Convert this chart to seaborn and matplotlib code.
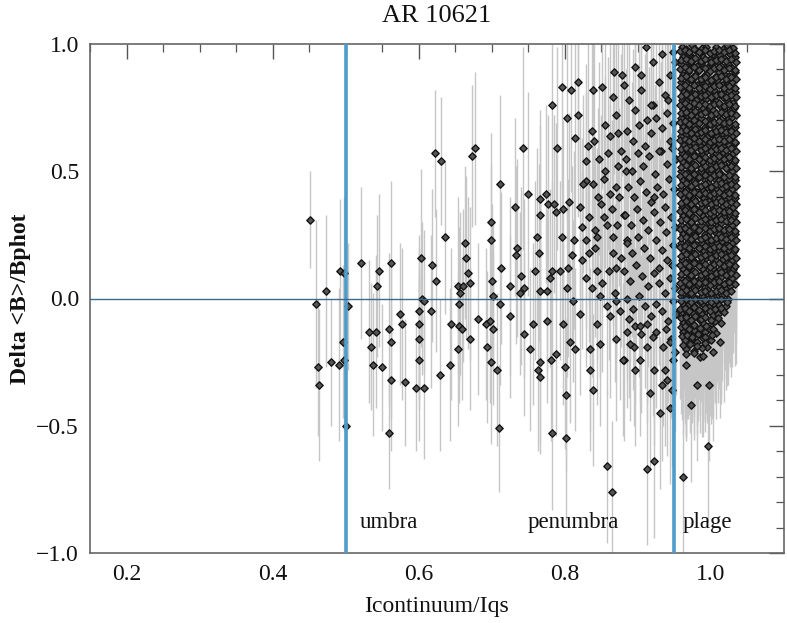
import matplotlib
matplotlib.use("Agg")
import matplotlib.pyplot as plt
import seaborn as sns
import pandas as pd
from matplotlib.ticker import MultipleLocator

# ---------------- data ----------------
title = "AR 10621"
x_label = "Icontinuum/Iqs"
y_label = "Delta <B>/Bphot"
region_names = ["umbra", "penumbra", "plage"]
region_x = [0.52, 0.749, 0.962]
region_y = [-0.90, -0.90, -0.90]
boundaries = [0.5, 0.95]
x_ticks = [0.2, 0.4, 0.6, 0.8, 1.0]
y_ticks = [-1.0, -0.5, 0.0, 0.5, 1.0]

# (x, y, error) points, umbra and inner penumbra
umbra_pts = [
    (0.452, 0.31, 0.19), (0.460, -0.02, 0.33), (0.473, 0.03, 0.30), (0.462, -0.27, 0.27),
    (0.464, -0.34, 0.30), (0.480, -0.25, 0.25), (0.491, -0.26, 0.30), (0.492, 0.11, 0.28),
    (0.498, 0.10, 0.30), (0.504, -0.03, 0.25), (0.496, -0.17, 0.30), (0.498, -0.24, 0.28),
    (0.501, -0.50, 0.20), (0.521, 0.14, 0.30), (0.532, -0.13, 0.28), (0.535, -0.19, 0.25),
    (0.538, -0.26, 0.28), (0.542, -0.13, 0.30), (0.543, 0.05, 0.28), (0.546, 0.11, 0.30),
    (0.550, -0.27, 0.25), (0.559, -0.12, 0.30), (0.562, 0.14, 0.32), (0.562, -0.17, 0.30),
    (0.562, -0.32, 0.28), (0.560, -0.53, 0.22), (0.575, -0.06, 0.28), (0.578, -0.10, 0.30),
    (0.582, -0.33, 0.25), (0.597, -0.35, 0.25), (0.603, 0.16, 0.35), (0.601, -0.05, 0.30),
    (0.601, -0.10, 0.30), (0.601, -0.16, 0.28), (0.601, -0.24, 0.32), (0.607, -0.35, 0.28),
    (0.605, 0.00, 0.30), (0.608, -0.01, 0.28), (0.617, -0.05, 0.30), (0.619, 0.13, 0.30),
    (0.622, 0.57, 0.25), (0.631, 0.54, 0.25), (0.624, 0.07, 0.28), (0.636, 0.24, 0.30),
    (0.629, -0.30, 0.30), (0.643, -0.26, 0.30), (0.645, -0.10, 0.30), (0.654, 0.05, 0.35),
    (0.655, -0.02, 0.30), (0.657, 0.02, 0.32), (0.661, 0.05, 0.30), (0.655, -0.11, 0.30),
    (0.659, -0.12, 0.28), (0.654, -0.20, 0.30), (0.664, 0.22, 0.30), (0.665, 0.16, 0.32),
    (0.668, 0.10, 0.30), (0.671, 0.06, 0.30), (0.671, -0.16, 0.28), (0.673, 0.56, 0.28),
    (0.677, 0.59, 0.30), (0.681, -0.08, 0.30), (0.693, -0.10, 0.30), (0.698, -0.09, 0.32),
    (0.699, 0.30, 0.35), (0.699, 0.23, 0.30), (0.701, 0.07, 0.30), (0.702, 0.01, 0.30),
    (0.702, -0.12, 0.30), (0.694, -0.19, 0.30), (0.699, -0.25, 0.32), (0.707, -0.28, 0.30),
    (0.710, -0.51, 0.25), (0.711, 0.45, 0.35), (0.713, 0.12, 0.30),
]

# (x, y, error) points, penumbra
penumbra_pts = [
    (0.868, 0.89, 0.40), (0.882, 0.84, 0.40), (0.797, 0.83, 0.40), (0.809, 0.82, 0.40),
    (0.819, 0.85, 0.40), (0.839, 0.82, 0.40), (0.852, 0.83, 0.40), (0.783, 0.76, 0.40),
    (0.804, 0.71, 0.40), (0.819, 0.72, 0.40), (0.814, 0.63, 0.40), (0.743, 0.59, 0.40),
    (0.790, 0.59, 0.40), (0.832, 0.60, 0.40), (0.841, 0.62, 0.40), (0.837, 0.66, 0.40),
    (0.873, 0.65, 0.40), (0.750, 0.41, 0.40), (0.732, 0.36, 0.35), (0.766, 0.39, 0.35),
    (0.775, 0.41, 0.35), (0.777, 0.37, 0.35), (0.785, 0.37, 0.35), (0.767, 0.33, 0.35),
    (0.788, 0.34, 0.35), (0.798, 0.35, 0.35), (0.806, 0.38, 0.35), (0.821, 0.36, 0.35),
    (0.830, 0.54, 0.38), (0.830, 0.46, 0.35), (0.839, 0.45, 0.35), (0.846, 0.40, 0.35),
    (0.856, 0.50, 0.38), (0.859, 0.57, 0.38), (0.871, 0.44, 0.35), (0.873, 0.52, 0.35),
    (0.884, 0.50, 0.35), (0.863, 0.41, 0.35), (0.854, 0.47, 0.35), (0.762, 0.24, 0.35),
    (0.765, 0.18, 0.35), (0.796, 0.24, 0.35), (0.735, 0.20, 0.35), (0.733, 0.17, 0.35),
    (0.725, 0.05, 0.35), (0.741, 0.09, 0.35), (0.760, 0.11, 0.35), (0.783, 0.11, 0.35),
    (0.794, 0.11, 0.35), (0.805, 0.12, 0.35), (0.810, 0.17, 0.35), (0.813, 0.23, 0.35),
    (0.824, 0.28, 0.35), (0.830, 0.23, 0.35), (0.842, 0.27, 0.35), (0.845, 0.24, 0.35),
    (0.854, 0.32, 0.35), (0.865, 0.35, 0.35), (0.872, 0.29, 0.35), (0.881, 0.33, 0.35),
    (0.885, 0.23, 0.35), (0.833, 0.18, 0.35), (0.867, 0.18, 0.35), (0.780, 0.08, 0.35),
    (0.830, 0.08, 0.35), (0.844, 0.11, 0.35), (0.871, 0.12, 0.35), (0.744, 0.04, 0.35),
    (0.766, 0.03, 0.35), (0.803, 0.04, 0.35),
    (0.783, -0.53, 0.30), (0.802, -0.55, 0.32), (0.858, -0.66, 0.30), (0.865, -0.76, 0.28),
    (0.839, -0.36, 0.30), (0.802, -0.38, 0.30), (0.766, -0.31, 0.30), (0.764, -0.28, 0.32),
    (0.725, -0.07, 0.32), (0.744, -0.14, 0.32), (0.753, -0.20, 0.32), (0.766, -0.25, 0.32),
    (0.781, -0.24, 0.32), (0.801, -0.27, 0.32), (0.814, -0.20, 0.32), (0.835, -0.28, 0.32),
    (0.835, -0.20, 0.32), (0.849, -0.18, 0.32), (0.871, -0.16, 0.32), (0.881, -0.24, 0.32),
    (0.789, -0.22, 0.32), (0.808, -0.17, 0.32), (0.757, -0.10, 0.32), (0.776, -0.09, 0.32),
    (0.798, -0.10, 0.32), (0.821, -0.06, 0.32), (0.844, -0.10, 0.32), (0.862, -0.07, 0.32),
    (0.712, -0.02, 0.32), (0.739, 0.02, 0.32), (0.776, 0.03, 0.32), (0.812, -0.01, 0.32),
    (0.849, 0.01, 0.32), (0.871, -0.01, 0.32),
    (0.826, 0.45, 0.35), (0.834, 0.32, 0.35), (0.842, 0.20, 0.35), (0.850, 0.37, 0.35),
    (0.858, 0.29, 0.35), (0.866, 0.24, 0.35), (0.874, 0.40, 0.35), (0.878, 0.16, 0.35),
    (0.852, 0.06, 0.35), (0.861, 0.11, 0.35), (0.869, 0.02, 0.35), (0.876, -0.05, 0.35),
    (0.858, -0.03, 0.35), (0.838, 0.04, 0.35), (0.824, 0.15, 0.35), (0.847, 0.55, 0.38),
    (0.862, 0.64, 0.38), (0.877, 0.58, 0.38), (0.871, 0.72, 0.40), (0.856, 0.68, 0.40),
    (0.879, 0.88, 0.40), (0.866, 0.79, 0.40),
]

# (x, y, error) points, outer penumbra just left of the plage boundary
outer_pts = [
    (0.889, 0.78, 0.38), (0.897, 0.74, 0.38), (0.905, 0.82, 0.38), (0.913, 0.70, 0.38),
    (0.921, 0.76, 0.38), (0.929, 0.85, 0.38), (0.937, 0.80, 0.38), (0.944, 0.88, 0.38),
    (0.951, 0.93, 0.38), (0.948, 0.97, 0.38), (0.886, 0.66, 0.36), (0.894, 0.62, 0.36),
    (0.902, 0.68, 0.36), (0.910, 0.60, 0.36), (0.918, 0.65, 0.36), (0.926, 0.71, 0.36),
    (0.934, 0.67, 0.36), (0.941, 0.73, 0.36), (0.949, 0.69, 0.36), (0.944, 0.62, 0.36),
    (0.884, 0.55, 0.35), (0.892, 0.50, 0.35), (0.900, 0.57, 0.35), (0.908, 0.52, 0.35),
    (0.916, 0.56, 0.35), (0.924, 0.49, 0.35), (0.932, 0.58, 0.35), (0.940, 0.53, 0.35),
    (0.947, 0.59, 0.35), (0.953, 0.55, 0.35), (0.887, 0.44, 0.34), (0.895, 0.40, 0.34),
    (0.903, 0.46, 0.34), (0.911, 0.42, 0.34), (0.919, 0.38, 0.34), (0.927, 0.44, 0.34),
    (0.935, 0.41, 0.34), (0.943, 0.47, 0.34), (0.950, 0.43, 0.34), (0.938, 0.36, 0.34),
    (0.883, 0.33, 0.33), (0.891, 0.29, 0.33), (0.899, 0.35, 0.33), (0.907, 0.31, 0.33),
    (0.915, 0.27, 0.33), (0.923, 0.34, 0.33), (0.931, 0.30, 0.33), (0.939, 0.26, 0.33),
    (0.946, 0.32, 0.33), (0.952, 0.28, 0.33), (0.885, 0.22, 0.33), (0.893, 0.18, 0.33),
    (0.901, 0.24, 0.33), (0.909, 0.20, 0.33), (0.917, 0.16, 0.33), (0.925, 0.23, 0.33),
    (0.933, 0.19, 0.33), (0.941, 0.15, 0.33), (0.948, 0.21, 0.33), (0.929, 0.12, 0.33),
    (0.882, 0.11, 0.32), (0.890, 0.07, 0.32), (0.898, 0.13, 0.32), (0.906, 0.09, 0.32),
    (0.914, 0.05, 0.32), (0.922, 0.10, 0.32), (0.930, 0.06, 0.32), (0.937, 0.02, 0.32),
    (0.945, 0.08, 0.32), (0.952, 0.04, 0.32), (0.886, 0.00, 0.32), (0.894, -0.04, 0.32),
    (0.902, 0.01, 0.32), (0.910, -0.03, 0.32), (0.918, -0.07, 0.32), (0.926, -0.02, 0.32),
    (0.934, -0.05, 0.32), (0.942, -0.09, 0.32), (0.949, -0.01, 0.32), (0.953, -0.06, 0.32),
    (0.888, -0.08, 0.31), (0.897, -0.11, 0.31), (0.905, -0.14, 0.31), (0.913, -0.10, 0.31),
    (0.921, -0.15, 0.31), (0.939, -0.12, 0.31), (0.946, -0.16, 0.31), (0.935, -0.19, 0.31),
    (0.951, -0.21, 0.31), (0.895, -0.19, 0.31), (0.905, 0.88, 0.38), (0.921, 0.93, 0.38),
    (0.933, 0.96, 0.38), (0.912, 0.99, 0.38), (0.897, 0.91, 0.38), (0.942, 0.78, 0.38),
    (0.930, 0.58, 0.35), (0.922, 0.40, 0.34), (0.947, 0.13, 0.33), (0.918, 0.76, 0.38),
    (0.913, -0.67, 0.30), (0.922, -0.64, 0.30), (0.931, -0.45, 0.30), (0.945, -0.43, 0.30),
    (0.917, -0.37, 0.30), (0.947, -0.36, 0.30), (0.933, -0.34, 0.30), (0.940, -0.32, 0.30),
    (0.897, -0.28, 0.30), (0.922, -0.28, 0.30), (0.938, -0.28, 0.30), (0.880, -0.24, 0.30),
    (0.903, -0.24, 0.30), (0.890, -0.18, 0.30), (0.913, -0.19, 0.30), (0.949, -0.24, 0.30),
    (0.885, -0.13, 0.30), (0.903, -0.11, 0.30), (0.926, -0.13, 0.30), (0.945, -0.17, 0.30),
]

# plage: scattered low points plus the dense cloud (rows of x and y values)
plage_low_pts = [
    (0.963, -0.70, 0.30), (0.996, -0.58, 0.30), (0.973, -0.42, 0.30), (0.982, -0.34, 0.30),
    (0.998, -0.34, 0.30), (0.967, -0.26, 0.30), (0.985, -0.23, 0.30), (0.995, -0.19, 0.30),
    (1.013, -0.17, 0.30),
]

plage_x_rows = [
    [0.961, 0.966, 0.975, 0.980, 0.989, 0.994, 1.003, 1.008, 1.017, 1.022, 1.031],
    [0.963, 0.971, 0.976, 0.985, 0.990, 0.999, 1.004, 1.013, 1.018, 1.027, 1.033],
    [0.959, 0.968, 0.973, 0.982, 0.987, 0.996, 1.001, 1.010, 1.015, 1.024, 1.029],
    [0.962, 0.969, 0.978, 0.983, 0.992, 0.997, 1.006, 1.011, 1.020, 1.025, 1.034],
    [0.960, 0.967, 0.974, 0.981, 0.988, 0.995, 1.002, 1.009, 1.016, 1.023, 1.030],
    [0.964, 0.970, 0.977, 0.986, 0.991, 0.998, 1.005, 1.012, 1.019, 1.026, 1.033],
    [0.961, 0.966, 0.975, 0.980, 0.989, 0.994, 1.003, 1.008, 1.017, 1.022, 1.031],
    [0.963, 0.971, 0.976, 0.985, 0.990, 0.999, 1.004, 1.013, 1.018, 1.027, 1.032],
    [0.959, 0.968, 0.973, 0.982, 0.987, 0.996, 1.001, 1.010, 1.015, 1.024, 1.029],
    [0.962, 0.969, 0.978, 0.983, 0.992, 0.997, 1.006, 1.011, 1.020, 1.025, 1.034],
    [0.960, 0.967, 0.974, 0.981, 0.988, 0.995, 1.002, 1.009, 1.016, 1.023, 1.030],
    [0.964, 0.970, 0.977, 0.986, 0.991, 0.998, 1.005, 1.012, 1.019, 1.026, 1.033],
    [0.961, 0.966, 0.975, 0.980, 0.989, 0.994, 1.003, 1.008, 1.017, 1.022, 1.031],
    [0.963, 0.971, 0.976, 0.985, 0.990, 0.999, 1.004, 1.013, 1.018, 1.027, 1.032],
    [0.959, 0.968, 0.973, 0.982, 0.987, 0.996, 1.001, 1.010, 1.015, 1.024, 1.029],
    [0.962, 0.969, 0.978, 0.983, 0.992, 0.997, 1.006, 1.011, 1.020, 1.025, 1.034],
    [0.960, 0.967, 0.974, 0.981, 0.988, 0.995, 1.002, 1.009, 1.016, 1.023, 1.030],
    [0.964, 0.970, 0.977, 0.986, 0.991, 0.998, 1.005, 1.012, 1.019, 1.026, 1.033],
    [0.961, 0.966, 0.975, 0.980, 0.989, 0.994, 1.003, 1.008, 1.017, 1.022, 1.031],
    [0.963, 0.971, 0.976, 0.985, 0.990, 0.999, 1.004, 1.013, 1.018, 1.027, 1.032],
    [0.959, 0.968, 0.973, 0.982, 0.987, 0.996, 1.001, 1.010, 1.015, 1.024, 1.029],
    [0.962, 0.969, 0.978, 0.983, 0.992, 0.997, 1.006, 1.011, 1.020, 1.025, 1.033],
    [0.960, 0.967, 0.974, 0.981, 0.988, 0.995, 1.002, 1.009, 1.016, 1.023, 1.030],
    [0.964, 0.970, 0.977, 0.986, 0.991, 0.998, 1.005, 1.012, 1.019, 1.026, 1.032],
    [0.961, 0.966, 0.975, 0.980, 0.989, 0.994, 1.003, 1.008, 1.017, 1.022, 1.030],
    [0.963, 0.971, 0.976, 0.985, 0.990, 0.999, 1.004, 1.013, 1.018, 1.027, 1.031],
    [0.959, 0.968, 0.973, 0.982, 0.987, 0.996, 1.001, 1.010, 1.015, 1.024, 1.029],
    [0.962, 0.969, 0.978, 0.983, 0.992, 0.997, 1.006, 1.011, 1.020, 1.027],
    [0.960, 0.967, 0.974, 0.981, 0.988, 0.995, 1.002, 1.009, 1.016, 1.024],
    [0.964, 0.970, 0.977, 0.986, 0.991, 0.998, 1.005, 1.012, 1.021],
    [0.961, 0.966, 0.975, 0.980, 0.989, 0.994, 1.003, 1.010, 1.018],
    [0.963, 0.971, 0.976, 0.985, 0.990, 0.999, 1.006, 1.014],
    [0.962, 0.969, 0.978, 0.983, 0.992, 0.999, 1.008],
    [0.965, 0.974, 0.981, 0.990, 1.001],
    [0.967, 0.977, 0.988, 1.004],
]
plage_y_rows = [
    [0.99, 0.98, 0.995, 0.975, 0.985, 0.99, 0.97, 0.99, 0.98, 0.995, 0.985],
    [0.95, 0.96, 0.945, 0.965, 0.95, 0.94, 0.96, 0.955, 0.945, 0.96, 0.95],
    [0.92, 0.91, 0.93, 0.915, 0.925, 0.91, 0.92, 0.93, 0.915, 0.92, 0.905],
    [0.88, 0.89, 0.875, 0.895, 0.88, 0.885, 0.87, 0.89, 0.88, 0.875, 0.89],
    [0.85, 0.845, 0.86, 0.84, 0.855, 0.85, 0.845, 0.86, 0.84, 0.855, 0.85],
    [0.81, 0.82, 0.805, 0.815, 0.825, 0.81, 0.82, 0.805, 0.815, 0.82, 0.81],
    [0.78, 0.775, 0.79, 0.78, 0.77, 0.785, 0.78, 0.775, 0.79, 0.78, 0.77],
    [0.745, 0.74, 0.755, 0.735, 0.75, 0.745, 0.74, 0.755, 0.745, 0.735, 0.75],
    [0.71, 0.72, 0.705, 0.715, 0.71, 0.70, 0.715, 0.72, 0.705, 0.71, 0.715],
    [0.675, 0.67, 0.68, 0.665, 0.675, 0.685, 0.67, 0.675, 0.665, 0.68, 0.675],
    [0.64, 0.645, 0.635, 0.65, 0.64, 0.635, 0.645, 0.64, 0.65, 0.635, 0.64],
    [0.605, 0.60, 0.61, 0.60, 0.615, 0.605, 0.595, 0.61, 0.60, 0.605, 0.61],
    [0.57, 0.565, 0.575, 0.56, 0.57, 0.58, 0.565, 0.57, 0.575, 0.56, 0.57],
    [0.535, 0.54, 0.53, 0.545, 0.535, 0.525, 0.54, 0.535, 0.53, 0.545, 0.535],
    [0.50, 0.495, 0.505, 0.49, 0.50, 0.51, 0.495, 0.50, 0.49, 0.505, 0.50],
    [0.465, 0.47, 0.46, 0.475, 0.465, 0.455, 0.47, 0.465, 0.46, 0.47, 0.465],
    [0.43, 0.425, 0.435, 0.42, 0.43, 0.44, 0.425, 0.43, 0.435, 0.42, 0.43],
    [0.395, 0.40, 0.39, 0.405, 0.395, 0.385, 0.40, 0.395, 0.39, 0.40, 0.395],
    [0.36, 0.355, 0.365, 0.35, 0.36, 0.37, 0.355, 0.36, 0.365, 0.35, 0.36],
    [0.325, 0.33, 0.32, 0.335, 0.325, 0.315, 0.33, 0.325, 0.32, 0.33, 0.325],
    [0.29, 0.285, 0.295, 0.28, 0.29, 0.30, 0.285, 0.29, 0.295, 0.28, 0.29],
    [0.255, 0.26, 0.25, 0.265, 0.255, 0.245, 0.26, 0.255, 0.25, 0.26, 0.255],
    [0.22, 0.215, 0.225, 0.21, 0.22, 0.23, 0.215, 0.22, 0.225, 0.21, 0.22],
    [0.185, 0.19, 0.18, 0.195, 0.185, 0.175, 0.19, 0.185, 0.18, 0.19, 0.185],
    [0.15, 0.145, 0.155, 0.14, 0.15, 0.16, 0.145, 0.15, 0.155, 0.14, 0.15],
    [0.115, 0.12, 0.11, 0.125, 0.115, 0.105, 0.12, 0.115, 0.11, 0.12, 0.115],
    [0.08, 0.075, 0.085, 0.07, 0.08, 0.09, 0.075, 0.08, 0.085, 0.07, 0.08],
    [0.045, 0.05, 0.04, 0.055, 0.045, 0.035, 0.05, 0.045, 0.04, 0.05],
    [0.01, 0.005, 0.015, 0.0, 0.01, 0.02, 0.005, 0.01, 0.015, 0.0],
    [-0.025, -0.02, -0.03, -0.015, -0.025, -0.035, -0.02, -0.025, -0.03],
    [-0.06, -0.065, -0.055, -0.07, -0.06, -0.05, -0.065, -0.06, -0.055],
    [-0.095, -0.09, -0.10, -0.085, -0.095, -0.105, -0.09, -0.095],
    [-0.13, -0.135, -0.125, -0.14, -0.13, -0.12, -0.135],
    [-0.165, -0.16, -0.17, -0.155, -0.165],
    [-0.20, -0.205, -0.195, -0.21],
]
plage_err_rows = [0.34, 0.33, 0.35, 0.32, 0.34, 0.33, 0.35, 0.32, 0.34, 0.33, 0.35, 0.32,
                  0.34, 0.33, 0.35, 0.32, 0.34, 0.33, 0.35, 0.32, 0.34, 0.33, 0.35, 0.32,
                  0.34, 0.33, 0.35, 0.32, 0.34, 0.33, 0.35, 0.32, 0.34, 0.33, 0.35]

# second, interleaved layer of the plage cloud
plage_x_rows2 = [
    [0.958, 0.965, 0.971, 0.978, 0.984, 0.992, 0.999, 1.005, 1.012, 1.019, 1.026, 1.034],
    [0.960, 0.966, 0.973, 0.979, 0.987, 0.993, 1.000, 1.007, 1.014, 1.021, 1.028, 1.035],
    [0.958, 0.965, 0.971, 0.978, 0.984, 0.992, 0.999, 1.005, 1.012, 1.019, 1.026, 1.034],
    [0.960, 0.966, 0.973, 0.979, 0.987, 0.993, 1.000, 1.007, 1.014, 1.021, 1.028, 1.035],
    [0.958, 0.965, 0.971, 0.978, 0.984, 0.992, 0.999, 1.005, 1.012, 1.019, 1.026, 1.034],
    [0.960, 0.966, 0.973, 0.979, 0.987, 0.993, 1.000, 1.007, 1.014, 1.021, 1.028, 1.035],
    [0.958, 0.965, 0.971, 0.978, 0.984, 0.992, 0.999, 1.005, 1.012, 1.019, 1.026, 1.034],
    [0.960, 0.966, 0.973, 0.979, 0.987, 0.993, 1.000, 1.007, 1.014, 1.021, 1.028, 1.035],
    [0.958, 0.965, 0.971, 0.978, 0.984, 0.992, 0.999, 1.005, 1.012, 1.019, 1.026, 1.034],
    [0.960, 0.966, 0.973, 0.979, 0.987, 0.993, 1.000, 1.007, 1.014, 1.021, 1.028, 1.035],
    [0.958, 0.965, 0.971, 0.978, 0.984, 0.992, 0.999, 1.005, 1.012, 1.019, 1.026, 1.034],
    [0.960, 0.966, 0.973, 0.979, 0.987, 0.993, 1.000, 1.007, 1.014, 1.021, 1.028, 1.035],
    [0.958, 0.965, 0.971, 0.978, 0.984, 0.992, 0.999, 1.005, 1.012, 1.019, 1.026, 1.034],
    [0.960, 0.966, 0.973, 0.979, 0.987, 0.993, 1.000, 1.007, 1.014, 1.021, 1.028, 1.035],
    [0.958, 0.965, 0.971, 0.978, 0.984, 0.992, 0.999, 1.005, 1.012, 1.019, 1.026, 1.034],
    [0.960, 0.966, 0.973, 0.979, 0.987, 0.993, 1.000, 1.007, 1.014, 1.021, 1.028, 1.035],
    [0.958, 0.965, 0.971, 0.978, 0.984, 0.992, 0.999, 1.005, 1.012, 1.019, 1.026, 1.034],
    [0.960, 0.966, 0.973, 0.979, 0.987, 0.993, 1.000, 1.007, 1.014, 1.021, 1.028, 1.035],
    [0.958, 0.965, 0.971, 0.978, 0.984, 0.992, 0.999, 1.005, 1.012, 1.019, 1.026, 1.034],
    [0.960, 0.966, 0.973, 0.979, 0.987, 0.993, 1.000, 1.007, 1.014, 1.021, 1.028, 1.035],
    [0.958, 0.965, 0.971, 0.978, 0.984, 0.992, 0.999, 1.005, 1.012, 1.019, 1.026, 1.034],
    [0.960, 0.966, 0.973, 0.979, 0.987, 0.993, 1.000, 1.007, 1.014, 1.021, 1.028, 1.035],
    [0.958, 0.965, 0.971, 0.978, 0.984, 0.992, 0.999, 1.005, 1.012, 1.019, 1.026, 1.034],
    [0.960, 0.966, 0.973, 0.979, 0.987, 0.993, 1.000, 1.007, 1.014, 1.021, 1.028, 1.035],
    [0.958, 0.965, 0.971, 0.978, 0.984, 0.992, 0.999, 1.005, 1.012, 1.019, 1.026, 1.034],
    [0.960, 0.966, 0.973, 0.979, 0.987, 0.993, 1.000, 1.007, 1.014, 1.021, 1.028, 1.035],
    [0.958, 0.965, 0.971, 0.978, 0.984, 0.992, 0.999, 1.005, 1.012, 1.019, 1.026, 1.033],
    [0.960, 0.966, 0.973, 0.979, 0.987, 0.993, 1.000, 1.007, 1.014, 1.021, 1.028],
    [0.960, 0.966, 0.973, 0.979, 0.987, 0.993, 1.000, 1.007, 1.014, 1.022],
    [0.958, 0.965, 0.971, 0.978, 0.984, 0.992, 0.999, 1.006, 1.015],
    [0.960, 0.966, 0.973, 0.979, 0.987, 0.993, 1.001, 1.010],
    [0.959, 0.965, 0.971, 0.978, 0.986, 0.994, 1.004],
    [0.961, 0.968, 0.975, 0.983, 0.992, 1.002],
    [0.963, 0.972, 0.981, 0.993],
    [0.966, 0.978, 0.990],
]
plage_y_rows2 = [
    [0.972, 0.978, 0.967, 0.980, 0.969, 0.976, 0.965, 0.974, 0.978, 0.968, 0.975, 0.966],
    [0.937, 0.943, 0.932, 0.945, 0.934, 0.941, 0.930, 0.939, 0.943, 0.933, 0.940, 0.931],
    [0.902, 0.908, 0.897, 0.910, 0.899, 0.906, 0.895, 0.904, 0.908, 0.898, 0.905, 0.896],
    [0.867, 0.873, 0.862, 0.875, 0.864, 0.871, 0.860, 0.869, 0.873, 0.863, 0.870, 0.861],
    [0.832, 0.838, 0.827, 0.840, 0.829, 0.836, 0.825, 0.834, 0.838, 0.828, 0.835, 0.826],
    [0.797, 0.803, 0.792, 0.805, 0.794, 0.801, 0.790, 0.799, 0.803, 0.793, 0.800, 0.791],
    [0.762, 0.768, 0.757, 0.770, 0.759, 0.766, 0.755, 0.764, 0.768, 0.758, 0.765, 0.756],
    [0.727, 0.733, 0.722, 0.735, 0.724, 0.731, 0.720, 0.729, 0.733, 0.723, 0.730, 0.721],
    [0.692, 0.698, 0.687, 0.700, 0.689, 0.696, 0.685, 0.694, 0.698, 0.688, 0.695, 0.686],
    [0.657, 0.663, 0.652, 0.665, 0.654, 0.661, 0.650, 0.659, 0.663, 0.653, 0.660, 0.651],
    [0.622, 0.628, 0.617, 0.630, 0.619, 0.626, 0.615, 0.624, 0.628, 0.618, 0.625, 0.616],
    [0.587, 0.593, 0.582, 0.595, 0.584, 0.591, 0.580, 0.589, 0.593, 0.583, 0.590, 0.581],
    [0.552, 0.558, 0.547, 0.560, 0.549, 0.556, 0.545, 0.554, 0.558, 0.548, 0.555, 0.546],
    [0.517, 0.523, 0.512, 0.525, 0.514, 0.521, 0.510, 0.519, 0.523, 0.513, 0.520, 0.511],
    [0.482, 0.488, 0.477, 0.490, 0.479, 0.486, 0.475, 0.484, 0.488, 0.478, 0.485, 0.476],
    [0.447, 0.453, 0.442, 0.455, 0.444, 0.451, 0.440, 0.449, 0.453, 0.443, 0.450, 0.441],
    [0.412, 0.418, 0.407, 0.420, 0.409, 0.416, 0.405, 0.414, 0.418, 0.408, 0.415, 0.406],
    [0.377, 0.383, 0.372, 0.385, 0.374, 0.381, 0.370, 0.379, 0.383, 0.373, 0.380, 0.371],
    [0.342, 0.348, 0.337, 0.350, 0.339, 0.346, 0.335, 0.344, 0.348, 0.338, 0.345, 0.336],
    [0.307, 0.313, 0.302, 0.315, 0.304, 0.311, 0.300, 0.309, 0.313, 0.303, 0.310, 0.301],
    [0.272, 0.278, 0.267, 0.280, 0.269, 0.276, 0.265, 0.274, 0.278, 0.268, 0.275, 0.266],
    [0.237, 0.243, 0.232, 0.245, 0.234, 0.241, 0.230, 0.239, 0.243, 0.233, 0.240, 0.231],
    [0.202, 0.208, 0.197, 0.210, 0.199, 0.206, 0.195, 0.204, 0.208, 0.198, 0.205, 0.196],
    [0.167, 0.173, 0.162, 0.175, 0.164, 0.171, 0.160, 0.169, 0.173, 0.163, 0.170, 0.161],
    [0.132, 0.138, 0.127, 0.140, 0.129, 0.136, 0.125, 0.134, 0.138, 0.128, 0.135, 0.126],
    [0.097, 0.103, 0.092, 0.105, 0.094, 0.101, 0.090, 0.099, 0.103, 0.093, 0.100, 0.091],
    [0.062, 0.068, 0.057, 0.070, 0.059, 0.066, 0.055, 0.064, 0.068, 0.058, 0.065, 0.056],
    [0.027, 0.033, 0.022, 0.035, 0.024, 0.031, 0.020, 0.029, 0.033, 0.023, 0.030],
    [-0.008, -0.002, -0.013, 0.000, -0.011, -0.004, -0.015, -0.006, -0.002, -0.012],
    [-0.043, -0.037, -0.048, -0.035, -0.046, -0.039, -0.050, -0.041, -0.037],
    [-0.078, -0.072, -0.083, -0.070, -0.081, -0.074, -0.085, -0.076],
    [-0.113, -0.107, -0.118, -0.105, -0.116, -0.109, -0.120],
    [-0.148, -0.142, -0.153, -0.140, -0.151, -0.144],
    [-0.183, -0.177, -0.188, -0.175],
    [-0.220, -0.214, -0.225],
]
plage_err_rows2 = [0.33, 0.35, 0.32, 0.34, 0.33, 0.35, 0.32, 0.34, 0.33, 0.35, 0.32, 0.34,
                   0.33, 0.35, 0.32, 0.34, 0.33, 0.35, 0.32, 0.34, 0.33, 0.35, 0.32, 0.34,
                   0.33, 0.35, 0.32, 0.34, 0.33, 0.35, 0.32, 0.34, 0.33, 0.35, 0.32]

# ---------------- build table ----------------
rows = []
for pts in (umbra_pts, penumbra_pts, outer_pts, plage_low_pts):
    for x, y, e in pts:
        rows.append((x, y, e))
for xr, yr, er in ((plage_x_rows, plage_y_rows, plage_err_rows),
                   (plage_x_rows2, plage_y_rows2, plage_err_rows2)):
    for xs, ys, e in zip(xr, yr, er):
        for x, y in zip(xs, ys):
            rows.append((x, y, e))
df = pd.DataFrame(rows, columns=["x", "y", "err"])

# ---------------- style ----------------
sns.set_style("white")
plt.rcParams["font.family"] = ["Liberation Serif", "DejaVu Serif"]
plt.rcParams["axes.unicode_minus"] = True

fig = plt.figure(figsize=(7.87, 6.23), dpi=100)
ax = fig.add_axes([90 / 787, 1 - 553 / 623, (783.5 - 90) / 787, (553 - 44) / 623])

ax.errorbar(df["x"], df["y"], yerr=df["err"], fmt="none", ecolor="#c6c6c6",
            elinewidth=1.0, capsize=0, zorder=1)
sns.scatterplot(data=df, x="x", y="y", marker="D", s=14, color="#555555",
                edgecolor="#141414", linewidth=1.0, ax=ax, zorder=2, legend=False)

for b in boundaries:
    ax.axvline(b, color="#4f9bcc", lw=2.6, zorder=4)
ax.axhline(0.0, color="#3e6a8c", lw=1.0, zorder=4)

for name, tx, ty in zip(region_names, region_x, region_y):
    ax.text(tx, ty, name, fontsize=16.5, color="#111111", ha="left", va="baseline", zorder=5)

ax.set_xlim(0.15, 1.1)
ax.set_ylim(-1.0, 1.0)
ax.set_xticks(x_ticks)
ax.set_yticks(y_ticks)
ax.xaxis.set_minor_locator(MultipleLocator(0.05))
ax.yaxis.set_minor_locator(MultipleLocator(0.1))
ax.set_xticklabels([f"{v:.1f}" for v in x_ticks])
ax.set_yticklabels([f"{v:.1f}".replace("-", "\u2212") for v in y_ticks])
ax.tick_params(which="both", direction="in", top=True, right=True, color="#555555",
               labelsize=17, labelcolor="#111111")
ax.tick_params(which="major", length=11, width=1.0, pad=8)
ax.tick_params(which="minor", length=6, width=0.9)
for s in ax.spines.values():
    s.set_color("#666666")
    s.set_linewidth(1.2)

ax.set_title(title, fontsize=19, color="#111111", pad=16)
ax.set_xlabel(x_label, fontsize=17, color="#111111", labelpad=8)
ax.set_ylabel(y_label, fontsize=17, fontweight="bold", color="#111111", labelpad=4)

fig.savefig("out.png", dpi=100)
